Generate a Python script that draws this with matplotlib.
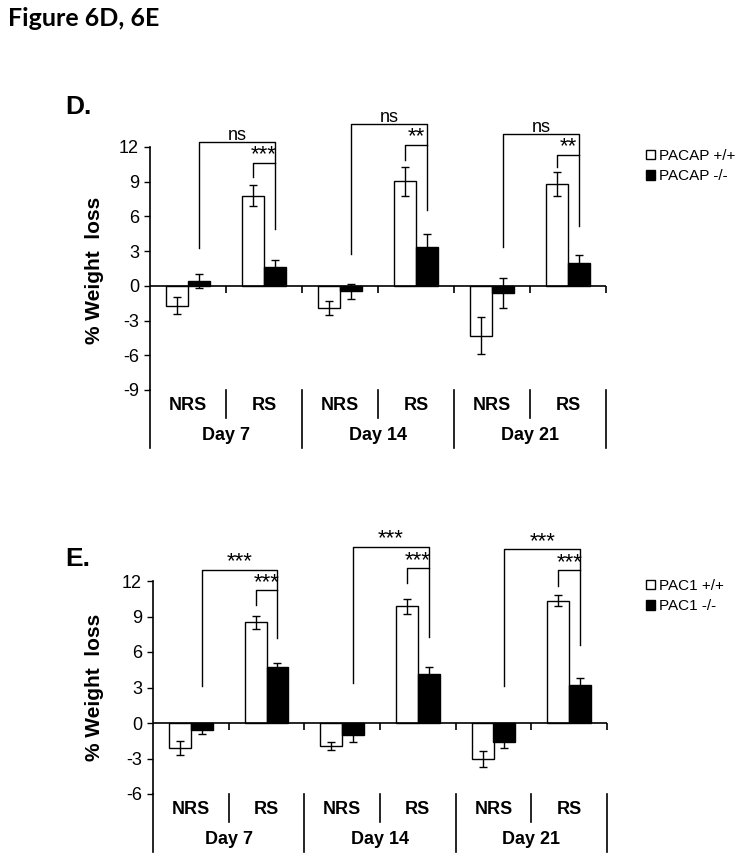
import numpy as np
import matplotlib
matplotlib.use('Agg')
import matplotlib.pyplot as plt
from matplotlib.patches import Patch

plt.rcParams['font.family'] = ['Liberation Sans', 'DejaVu Sans']
plt.rcParams['axes.unicode_minus'] = False

# categories
groups = ['NRS', 'RS', 'NRS', 'RS', 'NRS', 'RS']
days = ['Day 7', 'Day 14', 'Day 21']

# Figure 6D - PACAP
d_wt = [-1.7, 7.8, -1.9, 9.05, -4.3, 8.8]
d_wt_err = [0.7, 0.9, 0.6, 1.25, 1.6, 1.0]
d_ko = [0.4, 1.65, -0.45, 3.4, -0.65, 2.0]
d_ko_err = [0.6, 0.6, 0.65, 1.1, 1.3, 0.7]
d_legend = ['PACAP +/+', 'PACAP -/-']
d_sig_outer = ['ns', 'ns', 'ns']      # NRS -/- vs RS -/-
d_sig_inner = ['***', '**', '**']     # RS +/+ vs RS -/-

# Figure 6E - PAC1
e_wt = [-2.1, 8.5, -1.95, 9.85, -3.05, 10.35]
e_wt_err = [0.6, 0.57, 0.35, 0.67, 0.7, 0.5]
e_ko = [-0.55, 4.75, -1.05, 4.1, -1.6, 3.25]
e_ko_err = [0.35, 0.35, 0.55, 0.6, 0.55, 0.53]
e_legend = ['PAC1 +/+', 'PAC1 -/-']
e_sig_outer = ['***', '***', '***']
e_sig_inner = ['***', '***', '***']

# bracket heights per day: outer top, outer left end, right end, inner top, inner left end
d_brackets = [(12.4, 3.3, 4.9, 10.65, 9.45),
              (14.0, 2.75, 6.55, 12.2, 10.9),
              (13.15, 3.4, 5.2, 11.35, 10.3)]
e_brackets = [(12.95, 3.1, 7.2, 11.2, 9.95),
              (14.9, 3.4, 7.3, 13.1, 11.8),
              (14.7, 3.15, 6.6, 12.9, 11.6)]

W, H = 751, 860
fig = plt.figure(figsize=(W / 100, H / 100), dpi=100)


def px_axes(left, right, top, bottom):
    return fig.add_axes([left / W, 1 - bottom / H, (right - left) / W, (bottom - top) / H])


def draw_panel(ax, wt, wt_err, ko, ko_err, ylim, yticks, brackets, sig_outer, sig_inner, ax_h_px):
    x = np.arange(len(groups)) + 0.5
    w = 0.29
    ekw = dict(ecolor='black', elinewidth=1, capsize=3, capthick=1)
    ax.bar(x - w / 2, wt, w, yerr=wt_err, color='white', edgecolor='black',
           linewidth=1, error_kw=ekw, zorder=3)
    ax.bar(x + w / 2, ko, w, yerr=ko_err, color='black', edgecolor='black',
           linewidth=1, error_kw=ekw, zorder=3)
    ax.axhline(0, color='black', lw=1.2, zorder=4)
    ax.plot(np.arange(1, len(groups) + 1), np.zeros(len(groups)), ls='none',
            marker=3, ms=5, mew=1.2, color='black', clip_on=False, zorder=4)

    ax.set_xlim(0, len(groups))
    ax.set_ylim(*ylim)
    ax.set_yticks(yticks)
    ax.tick_params(axis='y', direction='out', length=4, width=1, pad=4, labelsize=13)
    ax.set_xticks([])
    for s in ['top', 'right', 'bottom']:
        ax.spines[s].set_visible(False)
    ax.spines['left'].set_linewidth(1.2)

    # two-level category axis below the plot
    tr = ax.get_xaxis_transform()
    short = -28 / ax_h_px
    long_ = -58 / ax_h_px
    for i in range(len(groups) + 1):
        yb = long_ if i % 2 == 0 else short
        ax.plot([i, i], [0, yb], color='black', lw=1.2, transform=tr, clip_on=False)
    for i, g in enumerate(groups):
        ax.text(i + 0.5, -16 / ax_h_px, g, transform=tr, ha='center', va='center',
                fontsize=13, fontweight='bold')
    for j, d in enumerate(days):
        ax.text(2 * j + 1, -46 / ax_h_px, d, transform=tr, ha='center', va='center',
                fontsize=13, fontweight='bold')

    # significance brackets
    for j, (top, left_low, right_low, itop, ileft_low) in enumerate(brackets):
        xl = 2 * j + 0.5 + w / 2
        xr = 2 * j + 1.5 + w / 2
        xw = 2 * j + 1.5 - w / 2
        ax.plot([xl, xl, xr, xr], [left_low, top, top, right_low], color='black',
                lw=1, clip_on=False)
        ax.plot([xw, xw, xr], [ileft_low, itop, itop], color='black', lw=1, clip_on=False)
        for lab, xm, yy in [(sig_outer[j], (xl + xr) / 2, top), (sig_inner[j], (xw + xr) / 2, itop)]:
            fs = 13 if lab == 'ns' else 16
            ax.annotate(lab, (xm, yy), xytext=(0, 1.5), textcoords='offset points',
                        ha='center', va='baseline', fontsize=fs, annotation_clip=False)


# panel D
axd = px_axes(150, 606, 147, 390)
draw_panel(axd, d_wt, d_wt_err, d_ko, d_ko_err, (-9, 12), np.arange(-9, 13, 3),
           d_brackets, d_sig_outer, d_sig_inner, 243)

# panel E
axe = px_axes(153, 607, 581, 794)
draw_panel(axe, e_wt, e_wt_err, e_ko, e_ko_err, (-6, 12), np.arange(-6, 13, 3),
           e_brackets, e_sig_outer, e_sig_inner, 213)

# labels
fig.text(8 / W, 1 - 26 / H, 'Figure 6D, 6E', fontsize=18, fontweight='bold',
         family=['Lato', 'DejaVu Sans'], va='baseline')
fig.text(65 / W, 1 - 114 / H, 'D.', fontsize=19, fontweight='bold', va='baseline')
fig.text(65 / W, 1 - 566 / H, 'E.', fontsize=19, fontweight='bold', va='baseline')
fig.text(95 / W, 1 - 270 / H, '% Weight  loss', rotation=90, fontsize=15,
         fontweight='bold', ha='center', va='center')
fig.text(94 / W, 1 - 687 / H, '% Weight  loss', rotation=90, fontsize=15,
         fontweight='bold', ha='center', va='center')

# legends
for labels, yc in [(d_legend, 166), (e_legend, 596)]:
    handles = [Patch(facecolor='white', edgecolor='black', lw=1),
               Patch(facecolor='black', edgecolor='black', lw=1)]
    fig.legend(handles, labels, loc='center left', bbox_to_anchor=(646 / W, 1 - yc / H),
               frameon=False, fontsize=11, handlelength=0.6, handleheight=0.6,
               handletextpad=0.25, labelspacing=0.4, borderpad=0, borderaxespad=0)

fig.savefig('out.png', dpi=100)
